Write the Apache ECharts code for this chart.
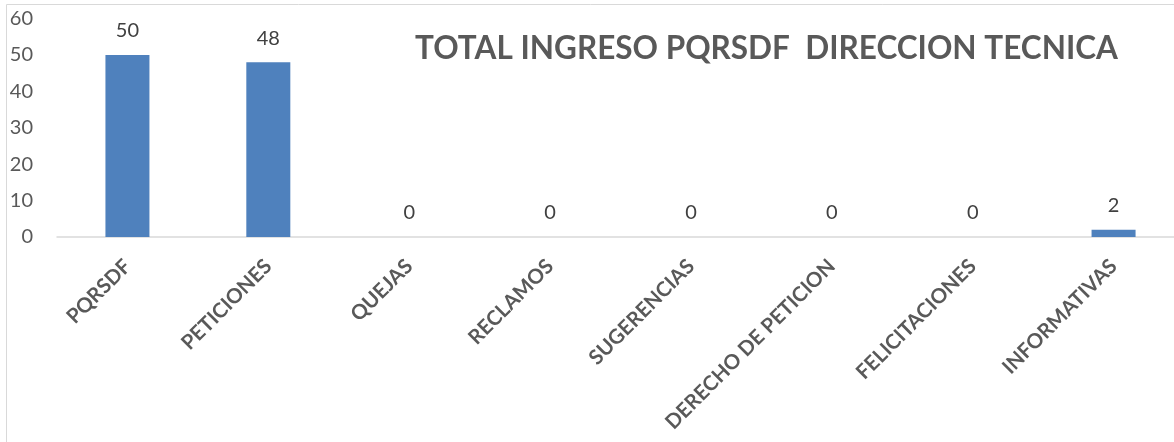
<!DOCTYPE html>
<html>
<head>
<meta charset="utf-8">
<script src="https://cdn.jsdelivr.net/npm/echarts@6/dist/echarts.min.js"></script>
<style>
  html, body { margin: 0; padding: 0; background: #fff; }
  #chart { width: 1174px; height: 442px; }
</style>
</head>
<body>
<div id="chart"></div>
<script>
// datos del grafico
const categories = ['PQRSDF', 'PETICIONES', 'QUEJAS', 'RECLAMOS', 'SUGERENCIAS', 'DERECHO DE PETICION', 'FELICITACIONES', 'INFORMATIVAS']
const values = [50, 48, 0, 0, 0, 0, 0, 2]
const titleText = 'TOTAL INGRESO PQRSDF  DIRECCION TECNICA'

const font = 'Lato, "Open Sans", sans-serif'
const chart = echarts.init(document.getElementById('chart'))

chart.setOption({
  animation: false,
  // marco exterior (solo se ve arriba y a la izquierda)
  graphic: [
    {
      type: 'rect',
      shape: { x: 6.5, y: 4.5, width: 1300, height: 600 },
      style: { fill: 'none', stroke: '#D9D9D9', lineWidth: 1 },
      silent: true
    }
  ],
  title: {
    text: titleText,
    left: 410,
    top: 28,
    textStyle: {
      color: '#595959',
      fontSize: 31.5,
      fontWeight: 'bold',
      fontFamily: font
    }
  },
  grid: {
    left: 57,
    width: 1127,
    top: 18.6,
    bottom: 205,
    outerBoundsMode: 'none'
  },
  xAxis: {
    type: 'category',
    data: categories,
    axisTick: { show: false },
    axisLine: { lineStyle: { color: '#D9D9D9', width: 1.5 } },
    axisLabel: {
      interval: 0,
      rotate: 45,
      margin: 26,
      color: '#595959',
      fontSize: 20.5,
      fontWeight: 'bold',
      fontFamily: font
    }
  },
  yAxis: {
    type: 'value',
    min: 0,
    max: 60,
    interval: 10,
    splitLine: { show: false },
    axisLine: { show: false },
    axisTick: { show: false },
    axisLabel: {
      margin: 24,
      color: '#595959',
      fontSize: 20,
      fontFamily: font
    }
  },
  series: [
    {
      type: 'bar',
      data: values,
      barWidth: 44,
      itemStyle: { color: '#4F81BD' },
      label: {
        show: true,
        position: 'top',
        distance: 14,
        color: '#404040',
        fontSize: 20,
        fontFamily: font
      }
    }
  ]
})
</script>
</body>
</html>
